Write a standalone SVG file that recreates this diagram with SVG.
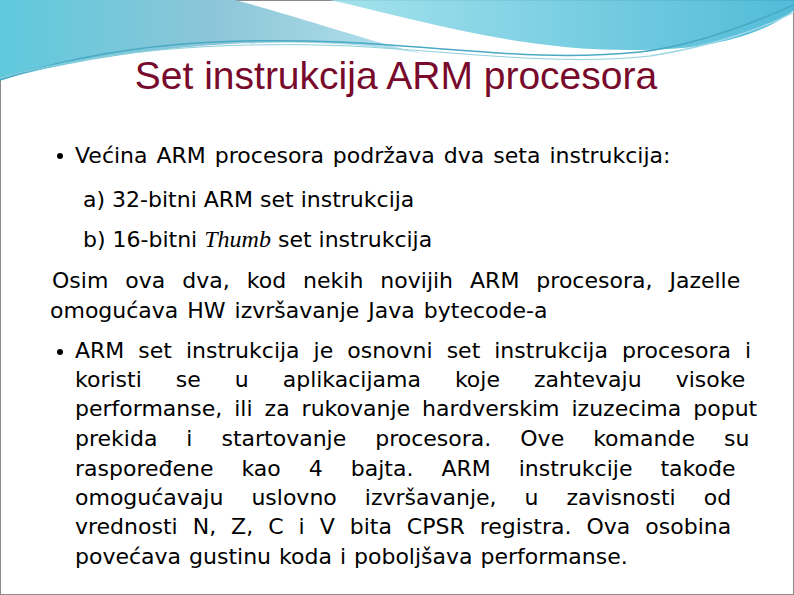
<svg xmlns="http://www.w3.org/2000/svg" width="794" height="595" viewBox="0 0 794 595">
<defs>
<linearGradient id="g1" x1="0" y1="0" x2="1" y2="0"><stop offset="0" stop-color="#5fc9dc"/><stop offset="0.5" stop-color="#8cc6d8"/><stop offset="1" stop-color="#b8e4ee"/></linearGradient>
<linearGradient id="g2" x1="0" y1="0" x2="1" y2="0"><stop offset="0" stop-color="#a9e6ee"/><stop offset="1" stop-color="#3fb4d4"/></linearGradient>
<style>
.t{font-family:"DejaVu Sans",sans-serif;font-size:22px;fill:#000}
</style>
</defs>
<rect width="794" height="595" fill="#fff"/>
<rect x="0.5" y="0.5" width="793" height="594" fill="none" stroke="#8a8a8a"/>
<path d="M0 0 H235 C310 20 380 45 430 55 C300 30 130 45 0 80 Z" fill="url(#g1)"/>
<path d="M260 0 H794 V10 C770 30 720 50 640 50 C520 52 420 20 330 0Z" fill="url(#g2)" opacity="0.9"/>
<path d="M0 80 C120 40 240 38 340 42 C460 48 540 62 640 52 C700 45 760 20 794 5" fill="none" stroke="#4aa9c4" stroke-width="1.5"/>
<path d="M0 78 C120 45 250 42 350 46 C460 52 560 66 650 56" fill="none" stroke="#8fd0de" stroke-width="1"/>
<path d="M650 56 C720 45 770 25 794 12" fill="none" stroke="#9fd7e6" stroke-width="1.5"/>
<text x="396" y="89" text-anchor="middle" style="font-family:'Liberation Sans',sans-serif;font-size:39px;fill:#780a2c">Set instrukcija ARM procesora</text>
<circle cx="60" cy="156" r="3" fill="#000"/>
<circle cx="60" cy="352" r="3" fill="#000"/>
<text class="t" x="75" y="163" word-spacing="2">Većina ARM procesora podržava dva seta instrukcija:</text>
<text class="t" x="83" y="207">a) 32-bitni ARM set instrukcija</text>
<text class="t" x="83" y="247">b) 16-bitni <tspan font-style="italic" font-family="Liberation Serif" font-size="24">Thumb</tspan> set instrukcija</text>
<text class="t" x="52" y="288" word-spacing="10">Osim ova dva, kod nekih novijih ARM procesora, Jazelle</text>
<text class="t" x="50" y="318" word-spacing="2">omogućava HW izvršavanje Java bytecode-a</text>
<text class="t" x="75" y="358" word-spacing="7">ARM set instrukcija je osnovni set instrukcija procesora i</text>
<text class="t" x="75" y="387" word-spacing="27">koristi se u aplikacijama koje zahtevaju visoke</text>
<text class="t" x="75" y="416" word-spacing="5">performanse, ili za rukovanje hardverskim izuzecima poput</text>
<text class="t" x="75" y="446" word-spacing="22">prekida i startovanje procesora. Ove komande su</text>
<text class="t" x="75" y="476" word-spacing="21">raspoređene kao 4 bajta. ARM instrukcije takođe</text>
<text class="t" x="75" y="505" word-spacing="21">omogućavaju uslovno izvršavanje, u zavisnosti od</text>
<text class="t" x="75" y="534" word-spacing="8">vrednosti N, Z, C i V bita CPSR registra. Ova osobina</text>
<text class="t" x="75" y="564" word-spacing="1">povećava gustinu koda i poboljšava performanse.</text>
</svg>
